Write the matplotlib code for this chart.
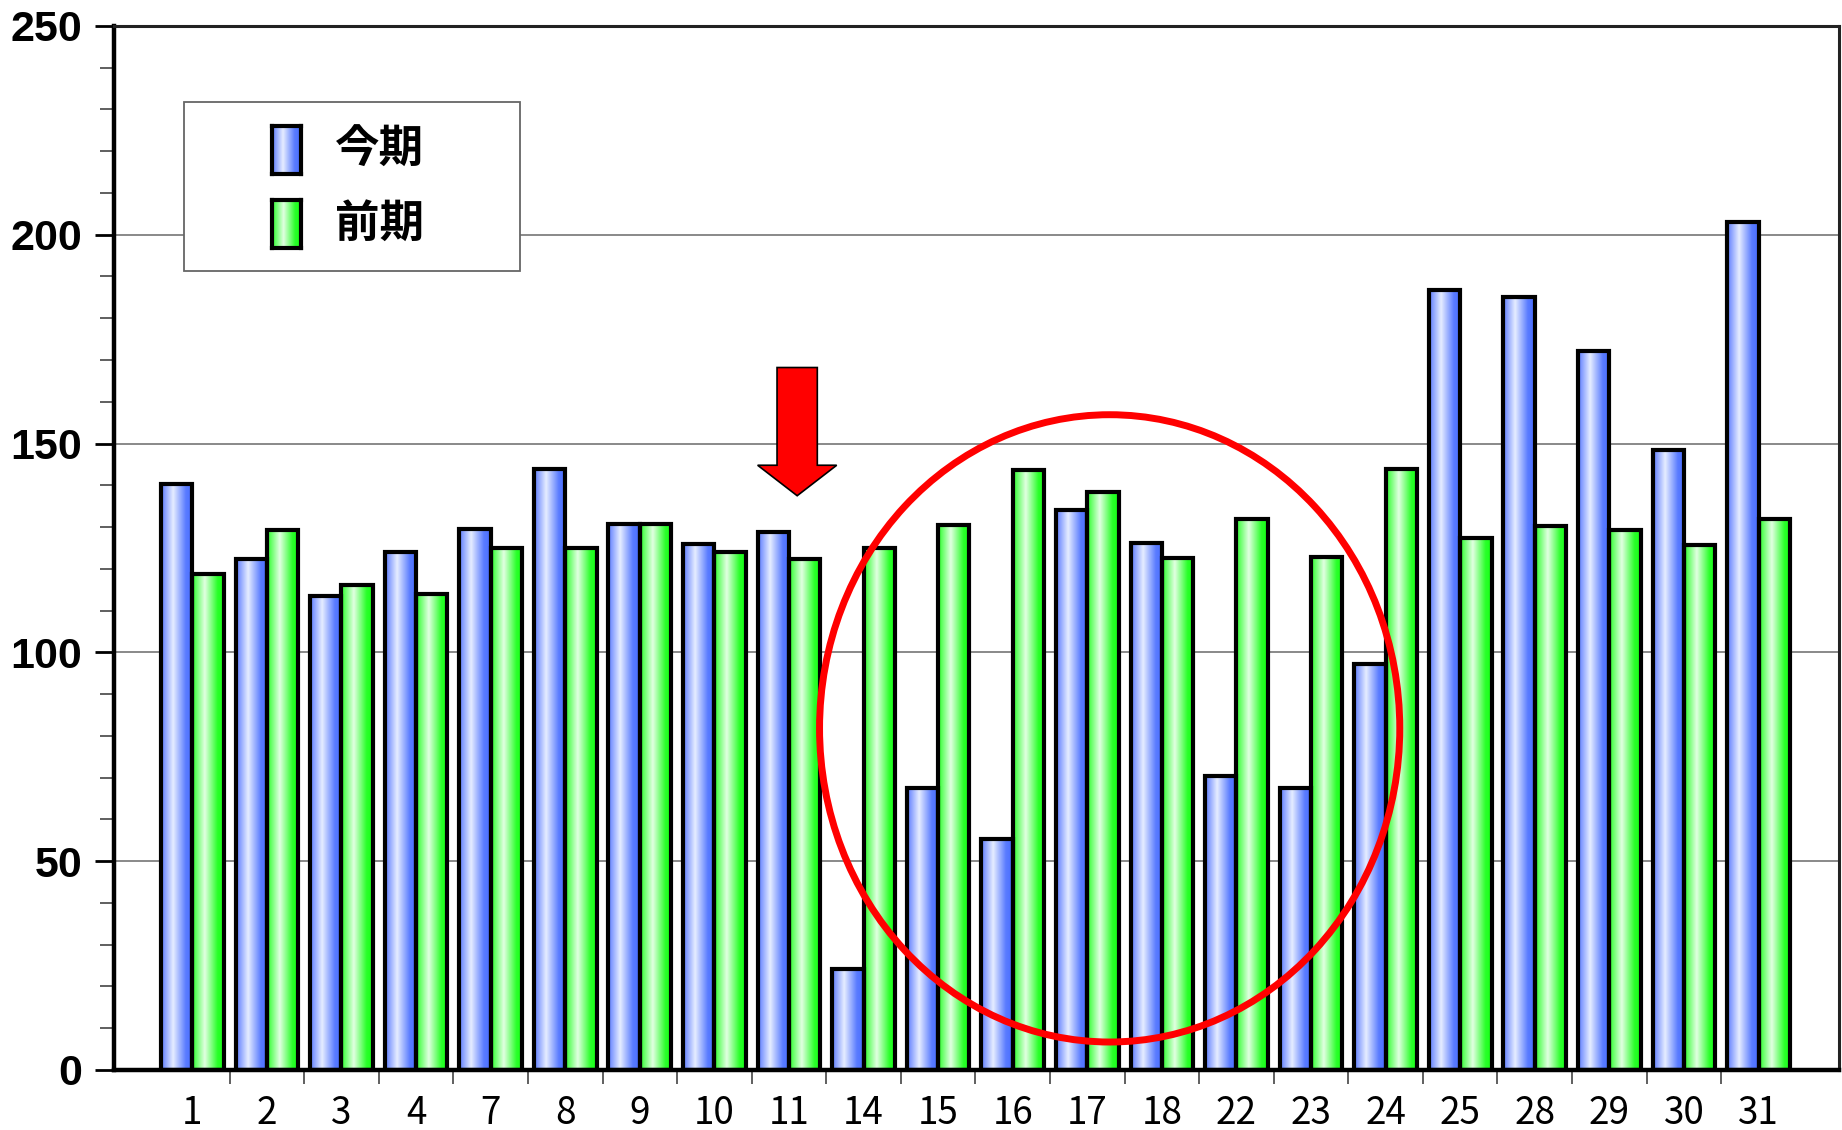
import numpy as np
import matplotlib
matplotlib.use("Agg")
import matplotlib.pyplot as plt
from matplotlib.colors import LinearSegmentedColormap
from matplotlib.patches import Ellipse, Polygon, Rectangle
from matplotlib.ticker import MultipleLocator, FixedLocator

# 日付ごとの値
days = ["1", "2", "3", "4", "7", "8", "9", "10", "11", "14", "15", "16",
        "17", "18", "22", "23", "24", "25", "28", "29", "30", "31"]
current = [140.3, 122.3, 113.6, 124.0, 129.6, 144.0, 130.8, 126.0, 128.8, 24.2,
           67.5, 55.4, 134.1, 126.3, 70.3, 67.5, 97.3, 186.7, 185.0, 172.1,
           148.5, 203.0]
previous = [118.7, 129.4, 116.1, 113.9, 124.9, 125.1, 130.8, 124.0, 122.3, 124.9,
            130.5, 143.7, 138.4, 122.6, 131.9, 122.9, 144.0, 127.4, 130.2, 129.4,
            125.7, 131.9]
series_names = ["今期", "前期"]

JP = ["Noto Sans CJK JP", "DejaVu Sans"]

blue_cmap = LinearSegmentedColormap.from_list(
    "blue_bar", [(0.0, "#5878ff"), (0.38, "#e6edff"), (0.78, "#5a7cff"), (1.0, "#486cff")])
green_cmap = LinearSegmentedColormap.from_list(
    "green_bar", [(0.0, "#26ff26"), (0.40, "#e2ffe2"), (0.80, "#2aff2a"), (1.0, "#14ff14")])
grad = np.linspace(0, 1, 256)[None, :]

fig = plt.figure(figsize=(18.42, 11.30), dpi=100)
ax = fig.add_axes([0.0619, 0.0531, 0.9365, 0.9240])

x = np.arange(len(days))
w = 0.42
bars_cur = ax.bar(x - w / 2, current, width=w, facecolor="none",
                  edgecolor="black", linewidth=3.0, zorder=3)
bars_prev = ax.bar(x + w / 2, previous, width=w, facecolor="none",
                   edgecolor="black", linewidth=3.0, zorder=3)

# グラデーション塗り
for bars, cmap in ((bars_cur, blue_cmap), (bars_prev, green_cmap)):
    for p in bars:
        x0, y0 = p.get_x(), p.get_y()
        ax.imshow(grad, cmap=cmap, aspect="auto", interpolation="bilinear",
                  extent=[x0, x0 + p.get_width(), y0, y0 + p.get_height()],
                  zorder=2)

ax.set_xlim(-1.05, len(days) - 1 + 1.08)
ax.set_ylim(0, 250)

# 目盛り
ax.yaxis.set_major_locator(MultipleLocator(50))
ax.yaxis.set_minor_locator(MultipleLocator(10))
ax.tick_params(axis="y", which="major", direction="out", length=14, width=2,
               pad=9, labelsize=31)
ax.tick_params(axis="y", which="minor", direction="out", length=10, width=1.2,
               color="#444444")
for lab in ax.get_yticklabels():
    lab.set_fontfamily("Liberation Sans")
    lab.set_fontweight("bold")

ax.xaxis.set_major_locator(FixedLocator(x))
ax.set_xticklabels(days, fontfamily=JP, fontsize=26.5)
ax.xaxis.set_minor_locator(FixedLocator(x[:-1] + 0.5))
ax.tick_params(axis="x", which="major", length=0, pad=17)
ax.tick_params(axis="x", which="minor", direction="out", length=10, width=1.2,
               color="#444444")

ax.yaxis.grid(True, which="major", color="#808080", linewidth=1.3, zorder=0)
ax.set_axisbelow(True)

for side in ("left", "bottom"):
    ax.spines[side].set_linewidth(3.2)
for side in ("top", "right"):
    ax.spines[side].set_linewidth(2.2)
    ax.spines[side].set_color("#222222")

# 凡例
ax.add_patch(Rectangle((0.0406, 0.765), 0.1948, 0.162, transform=ax.transAxes,
                       facecolor="white", edgecolor="#666666", linewidth=1.3,
                       zorder=5))
legend_rows = [(series_names[0], blue_cmap, 0.858), (series_names[1], green_cmap, 0.787)]
for name, cmap, yb in legend_rows:
    px0, ph, pw = 0.0916, 0.046, 0.0168
    fx = 0.0619 + px0 * 0.9365
    fy = 0.0531 + yb * 0.9240
    pax = fig.add_axes([fx, fy, pw * 0.9365, ph * 0.9240], zorder=6)
    pax.imshow(grad, cmap=cmap, aspect="auto", interpolation="bilinear")
    pax.set_xticks([])
    pax.set_yticks([])
    for s in pax.spines.values():
        s.set_linewidth(3.0)
    ax.text(0.128, yb + ph / 2, name, transform=ax.transAxes, fontfamily=JP,
            fontsize=32, fontweight="bold", va="center", ha="left", zorder=6)

# 注目箇所の矢印と楕円
arrow = Polygon([(7.84, 168.2), (8.38, 168.2), (8.38, 144.8), (8.64, 144.8),
                 (8.11, 137.5), (7.58, 144.8), (7.84, 144.8)],
                closed=True, facecolor="#ff0000", edgecolor="black",
                linewidth=1.2, zorder=7)
ax.add_patch(arrow)
ax.add_patch(Ellipse((12.30, 81.8), 7.78, 150.2, facecolor="none",
                     edgecolor="#ff0000", linewidth=5, zorder=7))

fig.savefig("out.png", dpi=100)
